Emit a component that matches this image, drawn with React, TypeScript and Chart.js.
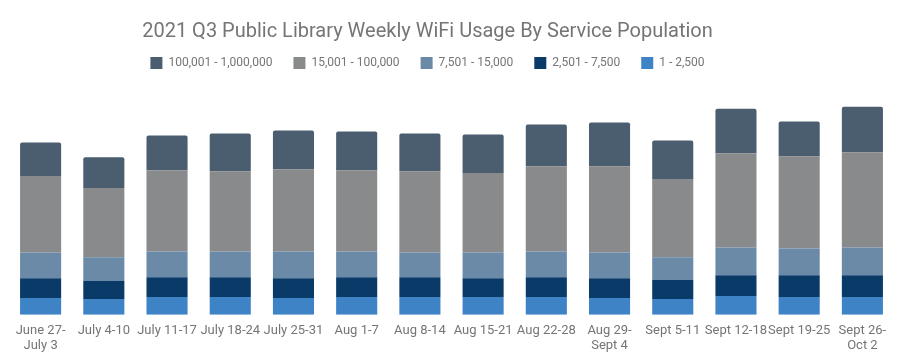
import React, { useEffect, useRef } from "react";
import { Chart, registerables } from "chart.js";

Chart.register(...registerables);

const categories: (string | string[])[] = [
  ["June 27-", "July 3"],
  "July 4-10",
  "July 11-17",
  "July 18-24",
  "July 25-31",
  "Aug 1-7",
  "Aug 8-14",
  "Aug 15-21",
  "Aug 22-28",
  ["Aug 29-", "Sept 4"],
  "Sept 5-11",
  "Sept 12-18",
  "Sept 19-25",
  ["Sept 26-", "Oct 2"],
];

// Weekly usage (relative units) by service population
const pop1to2500 = [17, 16, 18, 18, 17, 18, 18, 18, 18, 17, 16, 19, 18, 18];
const pop2501to7500 = [20, 18, 20, 20, 20, 20, 20, 19, 20, 20, 19, 21, 22, 22];
const pop7501to15000 = [26, 24, 26, 26, 27, 26, 25, 26, 26, 26, 23, 28, 27, 28];
const pop15001to100000 = [77, 70, 82, 81, 83, 82, 82, 80, 86, 87, 79, 95, 93, 96];
const pop100001to1000000 = [34, 31, 35, 38, 39, 39, 38, 39, 42, 44, 39, 45, 35, 46];

const seriesLabels = [
  "1 - 2,500",
  "2,501 - 7,500",
  "7,501 - 15,000",
  "15,001 - 100,000",
  "100,001 - 1,000,000",
];
const seriesColors = ["#3d83c6", "#0a3a68", "#6a8aa8", "#898a8c", "#4a5e70"];
const yMax = 238;

const shiftHeader = {
  id: "shiftHeader",
  afterLayout(chart: any) {
    const dx = 24;
    for (const b of [chart.titleBlock, chart.legend]) {
      if (b) {
        b.left -= dx;
        b.right -= dx;
      }
    }
  },
};

export default function App() {
  const ref = useRef<HTMLCanvasElement>(null);
  useEffect(() => {
    if (!ref.current) return;
    const series = [pop1to2500, pop2501to7500, pop7501to15000, pop15001to100000, pop100001to1000000];
    const chart = new Chart(ref.current, {
      type: "bar",
      data: {
        labels: categories,
        datasets: series.map((d, i) => ({
          label: seriesLabels[i],
          data: d,
          backgroundColor: seriesColors[i],
          borderWidth: 0,
          borderRadius: i === series.length - 1 ? 2 : 0,
          categoryPercentage: 1,
          barPercentage: 0.65,
        })),
      },
      plugins: [shiftHeader],
      options: {
        animation: false,
        responsive: false,
        maintainAspectRatio: false,
        layout: { padding: { left: 9, right: 28, top: 9, bottom: -5 } },
        plugins: {
          title: {
            display: true,
            text: "2021 Q3 Public Library Weekly WiFi Usage By Service Population",
            color: "#757575",
            font: { family: "Roboto", size: 20, weight: "normal" },
            padding: { top: 11, bottom: -8 },
          },
          legend: {
            reverse: true,
            labels: {
              color: "#757575",
              font: { family: "Roboto", size: 12 },
              boxWidth: 12,
              boxHeight: 12,
              padding: 21,
            },
          },
          tooltip: { enabled: false },
        },
        scales: {
          x: {
            stacked: true,
            grid: { display: false, drawTicks: false },
            border: { display: false },
            ticks: {
              color: "#757575",
              font: { family: "Roboto", size: 13 },
              maxRotation: 0,
              autoSkip: false,
              padding: 8,
            },
          },
          y: {
            stacked: true,
            display: false,
            min: 0,
            max: yMax,
          },
        },
      },
    });
    return () => chart.destroy();
  }, []);
  return (
    <div style={{ position: "absolute", left: 0, top: 0, width: 922, height: 357 }}>
      <canvas ref={ref} width={922} height={357} />
    </div>
  );
}
